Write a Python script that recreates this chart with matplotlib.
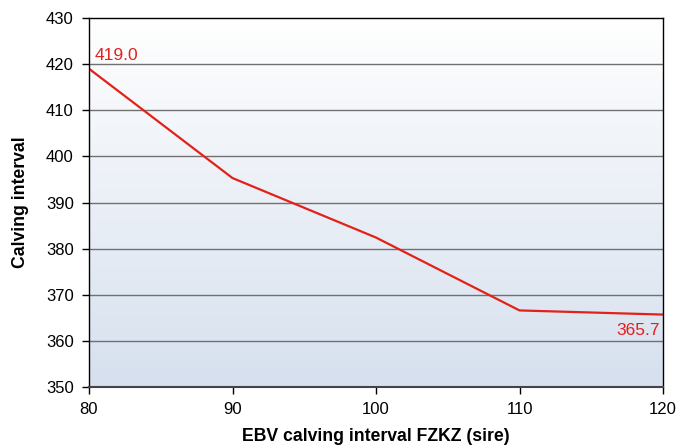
import numpy as np
import matplotlib.pyplot as plt
from matplotlib.colors import LinearSegmentedColormap

plt.rcParams['font.family'] = ['Liberation Sans', 'DejaVu Sans']

# data
ebv = [80, 90, 100, 110, 120]
calving = [419.0, 395.3, 382.4, 366.6, 365.7]
yticks = [350, 360, 370, 380, 390, 400, 410, 420, 430]
xticks = [80, 90, 100, 110, 120]

fig = plt.figure(figsize=(6.79, 4.48), dpi=100)
ax = fig.add_axes([89/679, 1 - 387/448, (663-89)/679, (387-18)/448])

# gradient background, white on top to pale blue at the bottom
cmap = LinearSegmentedColormap.from_list('bg', ['#ffffff', '#d6e0ee'])
grad = np.linspace(0, 1, 256).reshape(-1, 1)
ax.imshow(grad, cmap=cmap, aspect='auto', extent=[0, 1, 0, 1],
          transform=ax.transAxes, zorder=0)

for yv in yticks[1:-1]:
    ax.axhline(yv, color='#707070', lw=1.0, zorder=1)

ax.plot(ebv, calving, color='#e32119', lw=1.6, zorder=3)
ax.annotate('%.1f' % calving[0], (ebv[0], calving[0]), xytext=(4, 4),
            textcoords='offset points', color='#e32119', fontsize=12.5,
            ha='left', va='bottom', zorder=4)
ax.annotate('%.1f' % calving[-1], (ebv[-1], calving[-1]), xytext=(-2, -6),
            textcoords='offset points', color='#e32119', fontsize=12.5,
            ha='right', va='top', zorder=4)

ax.set_xlim(80, 120)
ax.set_ylim(350, 430)
ax.set_xticks(xticks)
ax.set_yticks(yticks)
ax.tick_params(axis='both', labelsize=12, colors='black', length=5, width=1, pad=6)
for s in ax.spines.values():
    s.set_color('black')
    s.set_linewidth(1)
    s.set_zorder(5)
ax.spines['bottom'].set_color('#444444')
ax.spines['bottom'].set_linewidth(1.5)

ax.set_xlabel('EBV calving interval FZKZ (sire)', fontsize=12.7, fontweight='bold', va='center')
ax.set_ylabel('Calving interval', fontsize=12.7, fontweight='bold', va='center')
ax.xaxis.set_label_coords(0.5, -0.1355)
ax.yaxis.set_label_coords(-0.12, 0.5)

plt.savefig('out.png', dpi=100)
